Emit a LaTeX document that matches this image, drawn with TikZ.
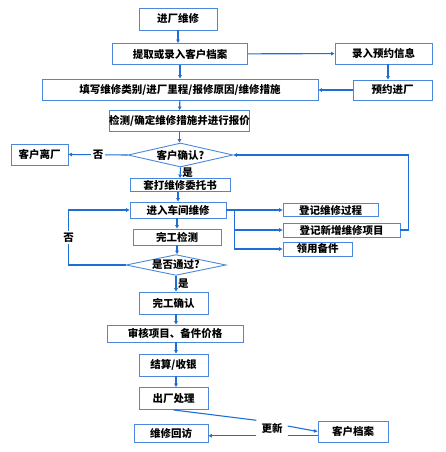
\documentclass[tikz,border=0pt]{standalone}
\usepackage{fontspec}
\setmainfont{Noto Sans CJK SC}
\usetikzlibrary{shapes.geometric, arrows.meta}
\definecolor{lineblue}{RGB}{30,110,215}
\definecolor{boxblue}{RGB}{75,135,220}
\tikzset{
  box/.style={draw=boxblue, line width=0.9pt, inner sep=0pt, font=\bfseries\fontsize{10.5}{12}\selectfont},
  decision/.style={diamond, draw=boxblue, line width=0.9pt, inner sep=0pt, aspect=4.4, font=\bfseries\fontsize{10.5}{12}\selectfont},
  flow/.style={draw=lineblue, line width=1.1pt, -{Triangle[length=3.5pt,width=3.5pt]}},
  link/.style={draw=lineblue, line width=1.1pt},
  lbl/.style={inner sep=1.5pt, font=\bfseries\fontsize{10.5}{12}\selectfont}
}
\begin{document}
\begin{tikzpicture}[x=1pt, y=-1pt]
\useasboundingbox (0,0) rectangle (445,452);
\node[box, minimum width=78pt, minimum height=22pt] (enter) at (178,19) {进厂维修};
\node[box, minimum width=135pt, minimum height=21pt] (archive) at (180,54) {提取或录入客户档案};
\node[box, minimum width=97pt, minimum height=21pt] (booking) at (383.5,53.5) {录入预约信息};
\node[box, minimum width=276pt, minimum height=21pt] (fillin) at (180,89.5) {填写维修类别/进厂里程/报修原因/维修措施};
\node[box, minimum width=79pt, minimum height=20pt] (arrive) at (392.5,90) {预约进厂};
\node[box, minimum width=135pt, minimum height=21pt] (quote) at (179.5,121) {检测/确定维修措施并进行报价};
\node[decision, minimum width=105pt, minimum height=24pt] (confirm) at (180.5,155) {客户确认?};
\node[box, minimum width=57pt, minimum height=21pt] (leave) at (39.5,154.5) {客户离厂};
\node[box, minimum width=100pt, minimum height=13pt] (print) at (180,185) {套打维修委托书};
\node[box, minimum width=96pt, minimum height=16pt] (repair) at (178,210) {进入车间维修};
\node[box, minimum width=95pt, minimum height=13pt] (logproc) at (330.5,210) {登记维修过程};
\node[box, minimum width=117pt, minimum height=14pt] (lognew) at (341.5,230) {登记新增维修项目};
\node[box, minimum width=69pt, minimum height=14pt] (parts) at (317.5,249) {领用备件};
\node[box, minimum width=88pt, minimum height=16pt] (check) at (177,237) {完工检测};
\node[decision, minimum width=100pt, minimum height=20pt] (pass) at (176,265) {是否通过?};
\node[box, minimum width=69pt, minimum height=22pt] (done) at (173.5,303) {完工确认};
\node[box, minimum width=136pt, minimum height=17pt] (audit) at (175,333.5) {审核项目、备件价格};
\node[box, minimum width=69pt, minimum height=22pt] (pay) at (173.5,365) {结算/收银};
\node[box, minimum width=69pt, minimum height=22pt] (exitp) at (173.5,398.5) {出厂处理};
\node[box, minimum width=74pt, minimum height=18pt] (visit) at (171,433) {维修回访};
\node[lbl, inner xsep=5pt, inner ysep=2.5pt] (update) at (272,428) {更新};
\node[box, minimum width=70pt, minimum height=21pt] (record) at (353,431.5) {客户档案};

\draw[flow] (enter) -- (enter |- archive.north);
\draw[flow] (archive) -- (booking);
\draw[flow] ([xshift=4.5pt]booking.south) -- ([xshift=4.5pt]booking.south |- arrive.north);
\draw[flow] (arrive) -- (arrive -| fillin.east);
\draw[flow] (archive) -- (fillin);
\draw[flow] (fillin) -- (quote);
\draw[flow] (quote) -- (quote |- confirm.north);
\draw[flow] (confirm.west) -- node[lbl, fill=white] {否} (leave.east);
\draw[flow] (confirm.south) -- node[lbl, right] {是} (print.north);
\draw[flow] (repair |- print.south) -- (repair.north);
\draw[link] (repair.east) -- ++(8,0) coordinate (fork);
\draw[flow] (fork) |- (logproc.west);
\draw[flow] (fork) |- (lognew.west);
\draw[flow] (fork) |- (parts.west);
\draw[flow] (lognew.east) -- ++(8,0) |- (confirm.east);
\draw[flow] (check |- repair.south) -- (check.north);
\draw[flow] (check.south) -- (check.south |- pass.north);
\draw[flow] (pass.west) -- ++(-57,0) |- node[pos=0.25, lbl, fill=white] {否} (repair.west);
\draw[flow] (pass.south) -- node[lbl, right] {是} (pass.south |- done.north);
\draw[flow] (pass.south |- done.south) -- (pass.south |- audit.north);
\draw[flow] (pass.south |- audit.south) -- (pass.south |- pay.north);
\draw[flow] (pass.south |- pay.south) -- (pass.south |- exitp.north);
\draw[link] (exitp.south) -- (update.north west);
\draw[flow] (update.south west) -- (update.south west -| visit.east);
\draw[flow] ([yshift=2pt]update.east) -- (record.west);
\draw[link] (update.south east) -- (update.south east -| record.west);
\end{tikzpicture}
\end{document}
